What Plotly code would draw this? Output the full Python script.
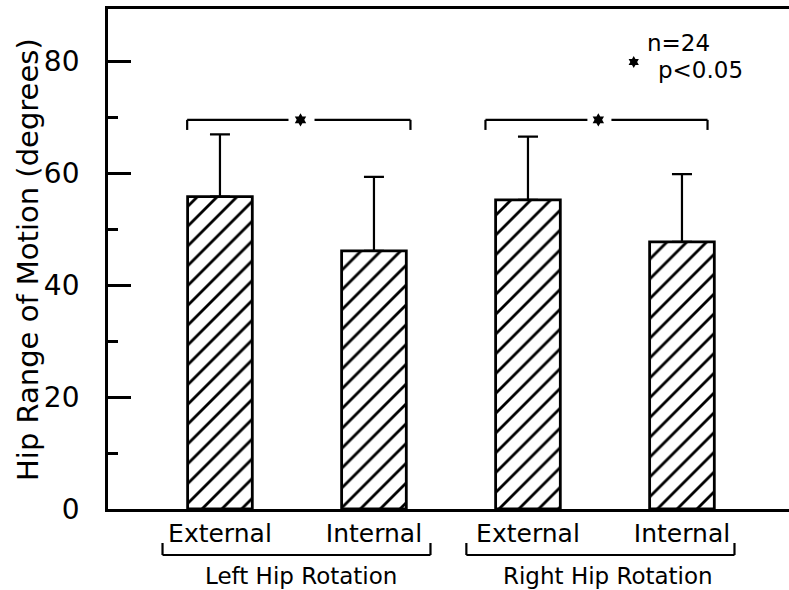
import plotly.graph_objects as go

# ---- data ----
categories = ["Left External", "Left Internal", "Right External", "Right Internal"]
tick_labels = ["External", "Internal", "External", "Internal"]
group_labels = ["Left Hip Rotation", "Right Hip Rotation"]
means = [55.8, 46.1, 55.2, 47.7]
sds = [11.1, 13.2, 11.3, 12.1]
y_ticks = [0, 20, 40, 60, 80]
y_minor = [10, 30, 50, 70]
y_title = "Hip Range of Motion (degrees)"

FONT = "DejaVu Sans"
BLACK = "#000000"
LW = 2.8

fig = go.Figure()
fig.add_trace(go.Bar(
    x=categories, y=means, width=0.42,
    marker=dict(color="white",
                line=dict(color=BLACK, width=LW),
                pattern=dict(shape="/", fgcolor=BLACK, fgopacity=1, bgcolor="white",
                             size=14, solidity=0.2)),
    error_y=dict(type="data", array=sds, arrayminus=[0] * len(sds), symmetric=False,
                 color=BLACK, thickness=2.2, width=10),
    showlegend=False,
))

shapes = []
# significance brackets above bars
sig_y, sig_tick = 69.5, 67.7
for (x0, gl, gr, x1) in [(-0.213, 0.445, 0.614, 1.237), (1.724, 2.386, 2.542, 3.166)]:
    for xa, xb in [(x0, gl), (gr, x1)]:
        shapes.append(dict(type="line", xref="x2", yref="y", x0=xa, x1=xb, y0=sig_y, y1=sig_y,
                           line=dict(color=BLACK, width=2.2)))
    for xe in (x0, x1):
        shapes.append(dict(type="line", xref="x2", yref="y", x0=xe, x1=xe, y0=sig_y, y1=sig_tick,
                           line=dict(color=BLACK, width=2.2)))
# group brackets below axis
by, bt = -0.092, -0.068
for x0, x1 in [(-0.373, 1.367), (1.6, 3.341)]:
    shapes.append(dict(type="line", xref="x2", yref="paper", x0=x0, x1=x1, y0=by, y1=by,
                       line=dict(color=BLACK, width=2.2)))
    for xe in (x0, x1):
        shapes.append(dict(type="line", xref="x2", yref="paper", x0=xe, x1=xe, y0=by, y1=bt,
                           line=dict(color=BLACK, width=2.2)))

# stars over the brackets
fig.add_trace(go.Scatter(x=[0.523, 2.457], y=[sig_y, sig_y], mode="markers", xaxis="x2",
                         marker=dict(symbol="hexagram", size=10, color=BLACK),
                         showlegend=False, hoverinfo="skip", cliponaxis=False))
fig.add_trace(go.Scatter(x=[0.772], y=[0.894], mode="markers", xaxis="x3", yaxis="y3",
                         marker=dict(symbol="hexagram", size=9, color=BLACK),
                         showlegend=False, hoverinfo="skip", cliponaxis=False))

annotations = [
    dict(text=group_labels[0], x=0.523, y=-0.134, xref="x2", yref="paper", showarrow=False,
         font=dict(size=23, color=BLACK, family=FONT), xanchor="center", yanchor="middle"),
    dict(text=group_labels[1], x=2.517, y=-0.134, xref="x2", yref="paper", showarrow=False,
         font=dict(size=23, color=BLACK, family=FONT), xanchor="center", yanchor="middle"),
    dict(text="n=24", x=0.838, y=0.932, xref="paper", yref="paper", showarrow=False,
         font=dict(size=23, color=BLACK, family=FONT), xanchor="center", yanchor="middle"),
    dict(text="p<0.05", x=0.87, y=0.878, xref="paper", yref="paper", showarrow=False,
         font=dict(size=23, color=BLACK, family=FONT), xanchor="center", yanchor="middle"),
    dict(text=y_title, x=-0.1175, y=0.5, xref="paper", yref="paper", showarrow=False,
         textangle=-90, font=dict(size=29, color=BLACK, family=FONT),
         xanchor="center", yanchor="middle"),
]

fig.update_layout(
    width=789, height=590,
    margin=dict(l=108, r=0, t=9, b=81),
    paper_bgcolor="white", plot_bgcolor="white",
    font=dict(family=FONT, color=BLACK),
    shapes=shapes, annotations=annotations,
    xaxis=dict(type="category", categoryorder="array", categoryarray=categories,
               tickvals=categories, ticktext=tick_labels, range=[-0.727, 3.695],
               showline=True, linecolor=BLACK, linewidth=LW, mirror=True,
               ticks="", showgrid=False, zeroline=False, automargin=False,
               tickfont=dict(size=25, color=BLACK, family=FONT)),
    xaxis2=dict(overlaying="x", range=[-0.727, 3.695], visible=False),
    xaxis3=dict(overlaying="x", range=[0, 1], visible=False),
    yaxis3=dict(overlaying="y", range=[0, 1], visible=False),
    yaxis=dict(range=[0, 89.3], tickvals=y_ticks, ticks="inside", ticklen=23, tickwidth=LW,
               tickcolor=BLACK, showline=True, linecolor=BLACK, linewidth=LW,
               showgrid=False, zeroline=False, ticklabelstandoff=20, automargin=False,
               tickfont=dict(size=28, color=BLACK, family=FONT),
               minor=dict(tickvals=y_minor, ticks="inside", ticklen=10, tickwidth=LW, tickcolor=BLACK,
                          showgrid=False)),
)

fig.write_html("out.html", config={"displayModeBar": False},
               post_script="document.body.style.margin='0';document.body.style.overflow='hidden';")
